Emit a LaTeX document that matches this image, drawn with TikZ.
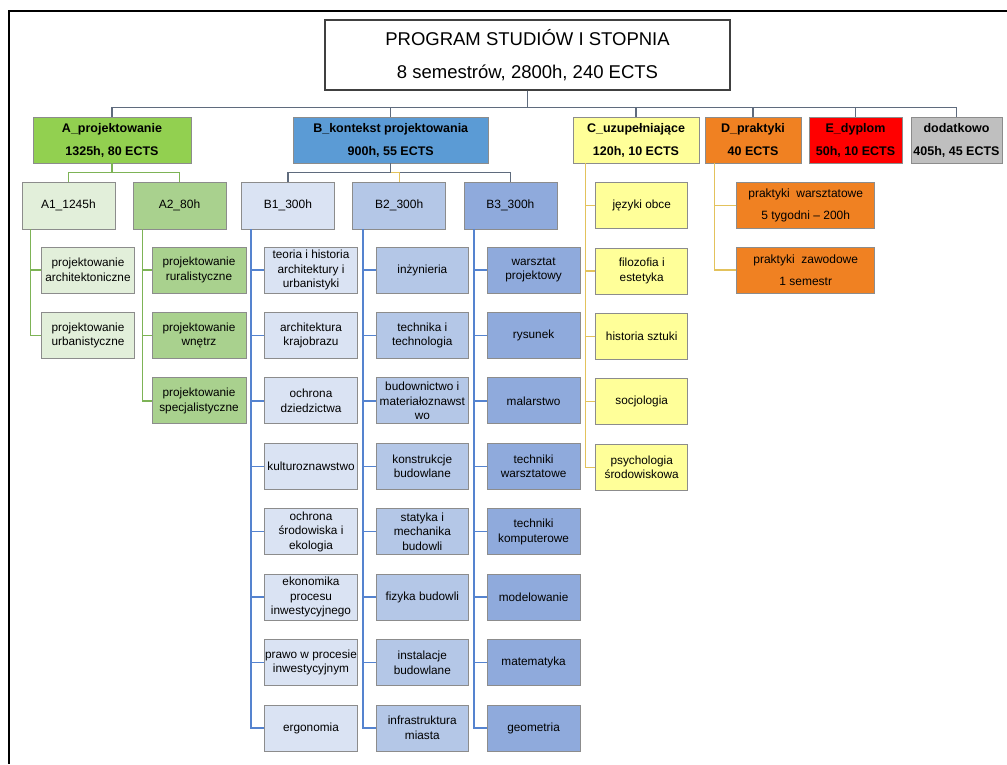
\documentclass[tikz,border=0pt]{standalone}
\usepackage{fontspec}
\setmainfont{Liberation Sans}
\definecolor{boxgray}{HTML}{8C8C8C}
\definecolor{cA}{HTML}{92D050}
\definecolor{cB}{HTML}{5B9BD5}
\definecolor{cC}{HTML}{FFFF99}
\definecolor{cD}{HTML}{F08122}
\definecolor{cE}{HTML}{FF0000}
\definecolor{cF}{HTML}{BFBFBF}
\definecolor{cAa}{HTML}{E2EFDA}
\definecolor{cAb}{HTML}{A9D18E}
\definecolor{cBa}{HTML}{DAE3F3}
\definecolor{cBb}{HTML}{B4C7E7}
\definecolor{cBc}{HTML}{8FAADC}
\definecolor{lnTop}{HTML}{5F6B7D}
\definecolor{lnA}{HTML}{7DB356}
\definecolor{lnB}{HTML}{5583CF}
\definecolor{lnC}{HTML}{E3C25C}
\begin{document}
\begin{tikzpicture}[x=1pt,y=-1pt,
  titlebox/.style={draw=black!75,line width=1.2pt,fill=white,align=center,inner sep=0pt,
    minimum width=405pt,minimum height=70pt,font=\fontsize{18.5}{33}\selectfont},
  lone/.style={draw=boxgray,line width=0.8pt,align=center,inner sep=0pt,
    minimum height=46pt,font=\fontsize{12.5}{23}\selectfont\bfseries},
  ltwo/.style={draw=boxgray,line width=0.8pt,align=center,inner sep=0pt,
    minimum height=47pt,minimum width=93pt,font=\fontsize{12}{14.5}\selectfont},
  lthree/.style={draw=boxgray,line width=0.8pt,align=center,inner sep=0pt,
    minimum height=46pt,minimum width=93pt,font=\fontsize{11.8}{14.5}\selectfont},
  lpract/.style={draw=boxgray,line width=0.8pt,align=center,inner sep=0pt,fill=cD,
    minimum height=46pt,minimum width=138pt,font=\fontsize{12}{22}\selectfont},
  conn/.style={line width=1.4pt}]
\useasboundingbox (0,0) rectangle (1007,764);
% frame
\draw[line width=2pt] (1007,11) -- (9,11) -- (9,764);
% title
\node[titlebox] (title) at (527.5,55) {PROGRAM STUDIÓW I STOPNIA\\8 semestrów, 2800h, 240 ECTS};
% level 1
\node[lone,fill=cA,minimum width=158pt] (A) at (112,140) {A\_projektowanie\\1325h, 80 ECTS};
\node[lone,fill=cB,minimum width=194.5pt] (B) at (390.75,140) {B\_kontekst projektowania\\900h, 55 ECTS};
\node[lone,fill=cC,minimum width=126pt] (C) at (636,140) {C\_uzupełniające\\120h, 10 ECTS};
\node[lone,fill=cD,minimum width=96pt] (D) at (753,140) {D\_praktyki\\40 ECTS};
\node[lone,fill=cE,minimum width=93pt] (E) at (855.5,140) {E\_dyplom\\50h, 10 ECTS};
\node[lone,fill=cF,minimum width=91pt] (F) at (956.5,140) {dodatkowo\\405h, 45 ECTS};
\foreach \n in {A,B,C,D,E,F}
  \draw[conn,lnTop] (title.south) -- ++(0,17) -| (\n.north);
% level 2
\node[ltwo,fill=cAa] (A1) at (68.4,205.5) {A1\_1245h};
\node[ltwo,fill=cAb] (A2) at (179.5,205.5) {A2\_80h};
\node[ltwo,fill=cBa] (B1) at (288,205.5) {B1\_300h};
\node[ltwo,fill=cBb] (B2) at (399.2,205.5) {B2\_300h};
\node[ltwo,fill=cBc] (B3) at (510.4,205.5) {B3\_300h};
\draw[conn,lnA] (A.south) -- ++(0,9) -| (A1.north);
\draw[conn,lnA] (A.south) -- ++(0,9) -| (A2.north);
\draw[conn,lnTop] (B.south) -- ++(0,9) -| (B1.north);
\draw[conn,lnTop] (B.south) -- ++(0,9) -| (B3.north);
\draw[conn,lnC] (B.south) ++(0,9) -| (B2.north);
% A1 children
\foreach \t [count=\i] in {{projektowanie\\architektoniczne},{projektowanie\\urbanistyczne}}{
  \node[lthree,fill=cAa,minimum width=92.3pt] (a1-\i) at (88,{270+65.43*(\i-1)}) {\t};
  \draw[conn,lnA] ([xshift=9pt]A1.south west) |- (a1-\i.west);
}
% A2 children
\foreach \t [count=\i] in {{projektowanie\\ruralistyczne},{projektowanie\\wnętrz},{projektowanie\\specjalistyczne}}{
  \node[lthree,fill=cAb,minimum width=94pt] (a2-\i) at (199,{270+65.43*(\i-1)}) {\t};
  \draw[conn,lnA] ([xshift=10pt]A2.south west) |- (a2-\i.west);
}
% B1 children
\foreach \t [count=\i] in {{teoria i historia\\architektury i\\urbanistyki},{architektura\\krajobrazu},{ochrona\\dziedzictwa},{kulturoznawstwo},{ochrona\\środowiska i\\ekologia},{ekonomika\\procesu\\inwestycyjnego},{prawo w procesie\\inwestycyjnym},{ergonomia}}{
  \node[lthree,fill=cBa,minimum width=93.4pt] (b1-\i) at (311,{270+65.43*(\i-1)}) {\t};
  \draw[conn,lnB] ([xshift=10pt]B1.south west) |- (b1-\i.west);
}
% B2 children
\foreach \t [count=\i] in {{inżynieria},{technika i\\technologia},{budownictwo i\\materiałoznawst\\wo},{konstrukcje\\budowlane},{statyka i\\mechanika\\budowli},{fizyka budowli},{instalacje\\budowlane},{infrastruktura\\miasta}}{
  \node[lthree,fill=cBb,minimum width=92.7pt] (b2-\i) at (422.3,{270+65.43*(\i-1)}) {\t};
  \draw[conn,lnB] ([xshift=10.6pt]B2.south west) |- (b2-\i.west);
}
% B3 children
\foreach \t [count=\i] in {{warsztat\\projektowy},{rysunek},{malarstwo},{techniki\\warsztatowe},{techniki\\komputerowe},{modelowanie},{matematyka},{geometria}}{
  \node[lthree,fill=cBc,minimum width=92.7pt] (b3-\i) at (533.6,{270+65.43*(\i-1)}) {\t};
  \draw[conn,lnB] ([xshift=10.3pt]B3.south west) |- (b3-\i.west);
}
% C children
\foreach \t [count=\i] in {{języki obce},{filozofia i\\estetyka},{historia sztuki},{socjologia},{psychologia\\środowiskowa}}{
  \node[lthree,fill=cC,minimum width=92pt] (c-\i) at (641.7,{205.5+65.43*(\i-1)}) {\t};
  \draw[conn,lnC] ([xshift=12.7pt]C.south west) |- (c-\i.west);
}
% D children
\node[lpract] (d-1) at (805.7,205.5) {praktyki\ \ warsztatowe\\5 tygodni – 200h};
\node[lpract] (d-2) at (805.7,270) {praktyki\ \ zawodowe\\1 semestr};
\foreach \i in {1,2}
  \draw[conn,lnC] ([xshift=10pt]D.south west) |- (d-\i.west);
\end{tikzpicture}
\end{document}
